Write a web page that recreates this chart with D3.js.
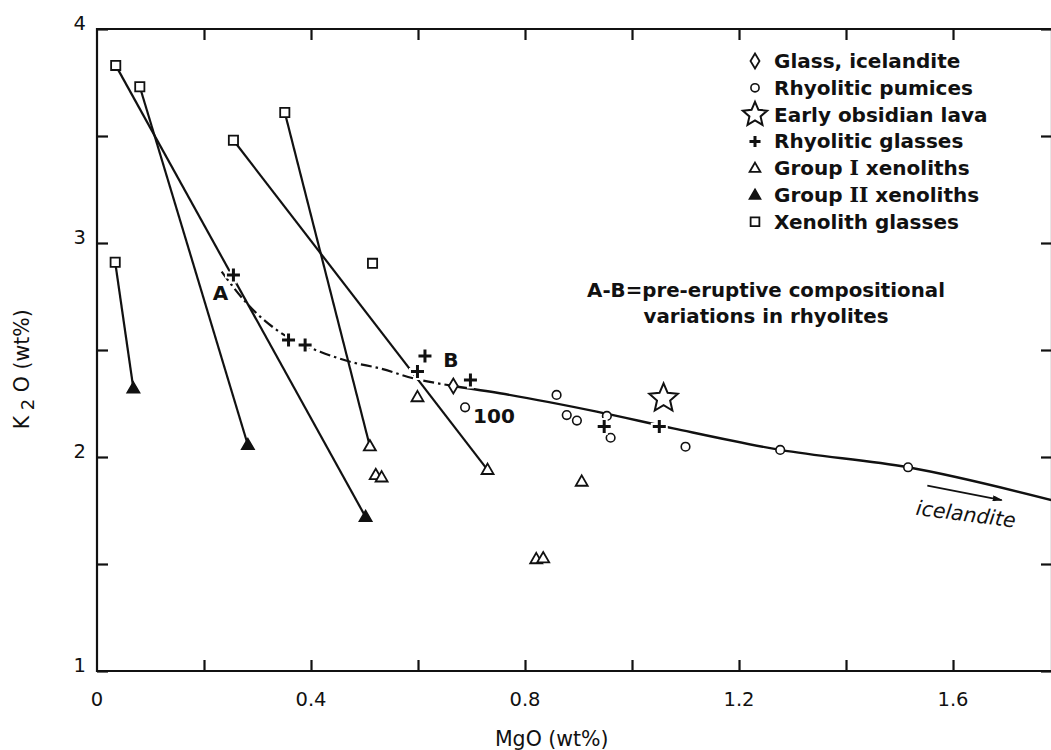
<!DOCTYPE html>
<html>
<head>
<meta charset="utf-8">
<script src="https://cdn.jsdelivr.net/npm/d3@7"></script>
<style>
  body { margin: 0; background: #fff; }
  svg { display: block; }
  text { font-family: "DejaVu Sans", sans-serif; fill: #111; }
</style>
</head>
<body>
<svg id="chart" width="1051" height="750"></svg>
<script>
// ---- data: [MgO wt%, K2O wt%] ----
const glassIcelandite = [[0.666, 2.332]];
const rhyoliticPumices = [
  [0.688, 2.232], [0.859, 2.290], [0.878, 2.196], [0.897, 2.170], [0.953, 2.192],
  [0.960, 2.090], [1.100, 2.048], [1.277, 2.033], [1.516, 1.952]
];
const earlyObsidianLava = [[1.059, 2.274]];
const rhyoliticGlasses = [
  [0.255, 2.850], [0.358, 2.547], [0.389, 2.523], [0.599, 2.399],
  [0.613, 2.472], [0.698, 2.360], [0.948, 2.142], [1.051, 2.142]
];
const groupIXenoliths = [
  [0.510, 2.050], [0.521, 1.916], [0.532, 1.905], [0.599, 2.280],
  [0.730, 1.940], [0.906, 1.885], [0.821, 1.523], [0.834, 1.527]
];
const groupIIXenoliths = [[0.068, 2.320], [0.282, 2.056], [0.502, 1.720]];
const xenolithGlasses = [
  [0.035, 3.830], [0.080, 3.730], [0.255, 3.480], [0.351, 3.610], [0.515, 2.905], [0.034, 2.910]
];
// xenolith glass -> host xenolith: [glass index, host group, host index]
const tieLines = [[0, "II", 2], [1, "II", 1], [2, "I", 4], [3, "I", 0], [5, "II", 0]];
// A-B trend through the rhyolitic glasses (dash-dot)
const preEruptiveTrend = [
  [0.233, 2.866], [0.280, 2.718], [0.355, 2.562], [0.417, 2.492], [0.473, 2.445],
  [0.529, 2.414], [0.591, 2.368], [0.666, 2.332]
];
// trend towards icelandite (solid)
const icelanditeTrend = [
  [0.666, 2.332], [0.753, 2.298], [0.934, 2.212], [1.077, 2.134],
  [1.277, 2.033], [1.516, 1.952], [1.79, 1.795]
];
const icelanditeArrow = [[1.552, 1.866], [1.691, 1.799]];

const xTicks = [0.2, 0.4, 0.6, 0.8, 1.0, 1.2, 1.4, 1.6];
const xTickLabels = [0, 0.4, 0.8, 1.2, 1.6];
const yTicks = [1, 1.5, 2, 2.5, 3, 3.5, 4];
const yTickLabels = [1, 2, 3, 4];

// ---- layout ----
const svg = d3.select("#chart");
const plotLeft = 97, plotTop = 29, plotRight = 1052, plotBottom = 671;
const x = d3.scaleLinear().domain([0, 1.785]).range([plotLeft, plotRight]);
const y = d3.scaleLinear().domain([1, 4]).range([plotBottom, plotTop]);

const ink = "#111";

// ---- symbols ----
const shapes = {
  circle: r => `M${r},0A${r},${r} 0 1,1 ${-r},0A${r},${r} 0 1,1 ${r},0Z`,
  square: s => `M${-s},${-s}H${s}V${s}H${-s}Z`,
  triangle: w => {
    const h = w * 0.866;
    return `M0,${-h * 0.6}L${w / 2},${h * 0.4}L${-w / 2},${h * 0.4}Z`;
  },
  diamond: h => `M0,${-h / 2}L${h * 0.3},0L0,${h / 2}L${-h * 0.3},0Z`,
  plus: s => `M${-s},0H${s}M0,${-s}V${s}`,
  star: R => {
    const p = d3.path(), r = R * 0.46;
    for (let i = 0; i < 10; i++) {
      const a = -Math.PI / 2 + i * Math.PI / 5, rr = i % 2 ? r : R;
      i ? p.lineTo(rr * Math.cos(a), rr * Math.sin(a)) : p.moveTo(rr * Math.cos(a), rr * Math.sin(a));
    }
    p.closePath();
    return p.toString();
  }
};

const styles = {
  diamond:   { size: 15, fill: "#fff", sw: 1.8 },
  circle:    { size: 4.3, fill: "#fff", sw: 1.6 },
  star:      { size: 15, fill: "#fff", sw: 2 },
  plus:      { size: 6.5, fill: "none", sw: 3 },
  triangle:  { size: 12, fill: "#fff", sw: 1.8 },
  triFilled: { size: 12.5, fill: ink, sw: 1.5, shape: "triangle" },
  square:    { size: 4.6, fill: "#fff", sw: 1.8 }
};

function drawSymbols(g, data, key) {
  const st = styles[key], shape = shapes[st.shape || key];
  if (key === "plus") {
    // white halo so the trend lines break around each cross
    g.selectAll(null).data(data).join("path")
      .attr("transform", d => `translate(${x(d[0])},${y(d[1])})`)
      .attr("d", shape(st.size + 2))
      .attr("stroke", "#fff").attr("stroke-width", 7).attr("fill", "none");
  }
  g.selectAll(null).data(data).join("path")
    .attr("transform", d => `translate(${x(d[0])},${y(d[1])})`)
    .attr("d", shape(st.size))
    .attr("fill", st.fill).attr("stroke", ink).attr("stroke-width", st.sw);
}

// ---- frame and ticks ----
const frame = svg.append("g").attr("stroke", ink).attr("stroke-width", 2.2).attr("fill", "none");
frame.append("line").attr("x1", plotLeft).attr("x2", plotLeft).attr("y1", plotTop - 1).attr("y2", plotBottom + 1);
frame.append("line").attr("x1", plotRight).attr("x2", plotRight).attr("y1", plotTop).attr("y2", plotBottom);
frame.append("line").attr("x1", plotLeft - 1).attr("x2", plotRight).attr("y1", plotTop).attr("y2", plotTop);
frame.append("line").attr("x1", plotLeft - 1).attr("x2", plotRight).attr("y1", plotBottom).attr("y2", plotBottom);

const tickLen = 11;
svg.append("g").call(d3.axisBottom(x).tickValues(xTicks).tickSize(-tickLen).tickFormat(""))
  .attr("transform", `translate(0,${plotBottom})`);
svg.append("g").call(d3.axisTop(x).tickValues(xTicks).tickSize(-tickLen).tickFormat(""))
  .attr("transform", `translate(0,${plotTop})`);
svg.append("g").call(d3.axisLeft(y).tickValues(yTicks).tickSize(-tickLen).tickFormat(""))
  .attr("transform", `translate(${plotLeft},0)`);
svg.append("g").call(d3.axisRight(y).tickValues(yTicks).tickSize(-tickLen).tickFormat(""))
  .attr("transform", `translate(${plotRight},0)`);
svg.selectAll(".domain").remove();
svg.selectAll(".tick line").attr("stroke", ink).attr("stroke-width", 2.2);

// tick labels
svg.append("g").selectAll("text").data(xTickLabels).join("text")
  .attr("x", d => x(d)).attr("y", plotBottom + 35)
  .attr("text-anchor", "middle").attr("font-size", 19.5)
  .text(d => d3.format("")(d));
svg.append("g").selectAll("text").data(yTickLabels).join("text")
  .attr("x", plotLeft - 11).attr("y", d => y(d) - 6).attr("dy", "0.35em")
  .attr("text-anchor", "end").attr("font-size", 19.5)
  .text(d => d);

// axis titles
svg.append("text").attr("x", x(0.85)).attr("y", 746)
  .attr("text-anchor", "middle").attr("font-size", 20.5)
  .text("MgO (wt%)");
const yt = svg.append("text").attr("transform", `translate(29,${y(2.41)}) rotate(-90)`)
  .attr("text-anchor", "middle").attr("font-size", 20.5);
yt.append("tspan").text("K");
yt.append("tspan").attr("dy", 5).attr("font-size", 18).text(" 2");
yt.append("tspan").attr("dy", -5).text(" O (wt%)");

// ---- lines ----
const lineGen = d3.line().x(d => x(d[0])).y(d => y(d[1])).curve(d3.curveMonotoneX);
const lines = svg.append("g").attr("fill", "none").attr("stroke", ink).attr("stroke-width", 2.2);
const hosts = { I: groupIXenoliths, II: groupIIXenoliths };
lines.selectAll(null).data(tieLines).join("line")
  .attr("x1", d => x(xenolithGlasses[d[0]][0])).attr("y1", d => y(xenolithGlasses[d[0]][1]))
  .attr("x2", d => x(hosts[d[1]][d[2]][0])).attr("y2", d => y(hosts[d[1]][d[2]][1]));
lines.append("path").attr("d", lineGen(preEruptiveTrend))
  .attr("stroke-dasharray", "11,4,2.5,4");
lines.append("path").attr("d", lineGen(icelanditeTrend)).attr("stroke-width", 2.4);

// arrow towards icelandite
svg.append("defs").append("marker").attr("id", "head")
  .attr("viewBox", "0 0 10 6").attr("refX", 9).attr("refY", 3)
  .attr("markerWidth", 10).attr("markerHeight", 6).attr("markerUnits", "userSpaceOnUse")
  .attr("orient", "auto")
  .append("path").attr("d", "M0,0L10,3L0,6Z").attr("fill", ink);
svg.append("line")
  .attr("x1", x(icelanditeArrow[0][0])).attr("y1", y(icelanditeArrow[0][1]))
  .attr("x2", x(icelanditeArrow[1][0])).attr("y2", y(icelanditeArrow[1][1]))
  .attr("stroke", ink).attr("stroke-width", 1.8).attr("marker-end", "url(#head)");
svg.append("text")
  .attr("transform", `translate(${x(icelanditeArrow[0][0]) - 12},${y(icelanditeArrow[0][1]) + 29}) rotate(7.5)`)
  .attr("font-size", 20.5).attr("font-style", "italic").text("icelandite");

// ---- points ----
const pts = svg.append("g");
drawSymbols(pts.append("g"), xenolithGlasses, "square");
drawSymbols(pts.append("g"), groupIXenoliths, "triangle");
drawSymbols(pts.append("g"), groupIIXenoliths, "triFilled");
drawSymbols(pts.append("g"), rhyoliticPumices, "circle");
drawSymbols(pts.append("g"), rhyoliticGlasses, "plus");
drawSymbols(pts.append("g"), glassIcelandite, "diamond");
drawSymbols(pts.append("g"), earlyObsidianLava, "star");

// ---- point annotations ----
const lab = svg.append("g").attr("font-weight", "bold").attr("font-size", 20);
lab.append("text").attr("x", x(rhyoliticGlasses[0][0]) - 13).attr("y", y(rhyoliticGlasses[0][1]) + 25)
  .attr("text-anchor", "middle").text("A");
lab.append("text").attr("x", x(rhyoliticGlasses[4][0]) + 26).attr("y", y(rhyoliticGlasses[4][1]) + 11)
  .attr("text-anchor", "middle").text("B");
lab.append("text").attr("x", x(rhyoliticPumices[0][0]) + 8).attr("y", y(rhyoliticPumices[0][1]) + 16)
  .text("100");

// A-B note
const note = svg.append("text").attr("text-anchor", "middle").attr("font-size", 19.8).attr("font-weight", "bold");
note.append("tspan").attr("x", 766).attr("y", 297).text("A-B=pre-eruptive compositional");
note.append("tspan").attr("x", 766).attr("y", 323).text("variations in rhyolites");

// ---- legend ----
const legendItems = [
  { key: "diamond", parts: ["Glass, icelandite"], scale: 1 },
  { key: "circle", parts: ["Rhyolitic pumices"], scale: 0.95 },
  { key: "star", parts: ["Early obsidian lava"], scale: 0.85 },
  { key: "plus", parts: ["Rhyolitic glasses"], scale: 0.85 },
  { key: "triangle", parts: ["Group ", ["I"], " xenoliths"], scale: 0.9 },
  { key: "triFilled", parts: ["Group ", ["II"], " xenoliths"], scale: 0.9 },
  { key: "square", parts: ["Xenolith glasses"], scale: 0.95 }
];
const legend = svg.append("g").attr("transform", "translate(755,61)");
legendItems.forEach((it, i) => {
  const row = legend.append("g").attr("transform", `translate(0,${i * 26.8})`);
  const st = styles[it.key], shape = shapes[st.shape || it.key];
  row.append("path").attr("d", shape(st.size * it.scale))
    .attr("fill", st.fill).attr("stroke", ink).attr("stroke-width", st.sw);
  const t = row.append("text").attr("x", 19).attr("y", 7).attr("font-size", 20).attr("font-weight", "bold");
  it.parts.forEach(p => {
    if (Array.isArray(p)) t.append("tspan").attr("font-family", "'DejaVu Serif', serif").text(p[0]);
    else t.append("tspan").text(p);
  });
});
</script>
</body>
</html>
